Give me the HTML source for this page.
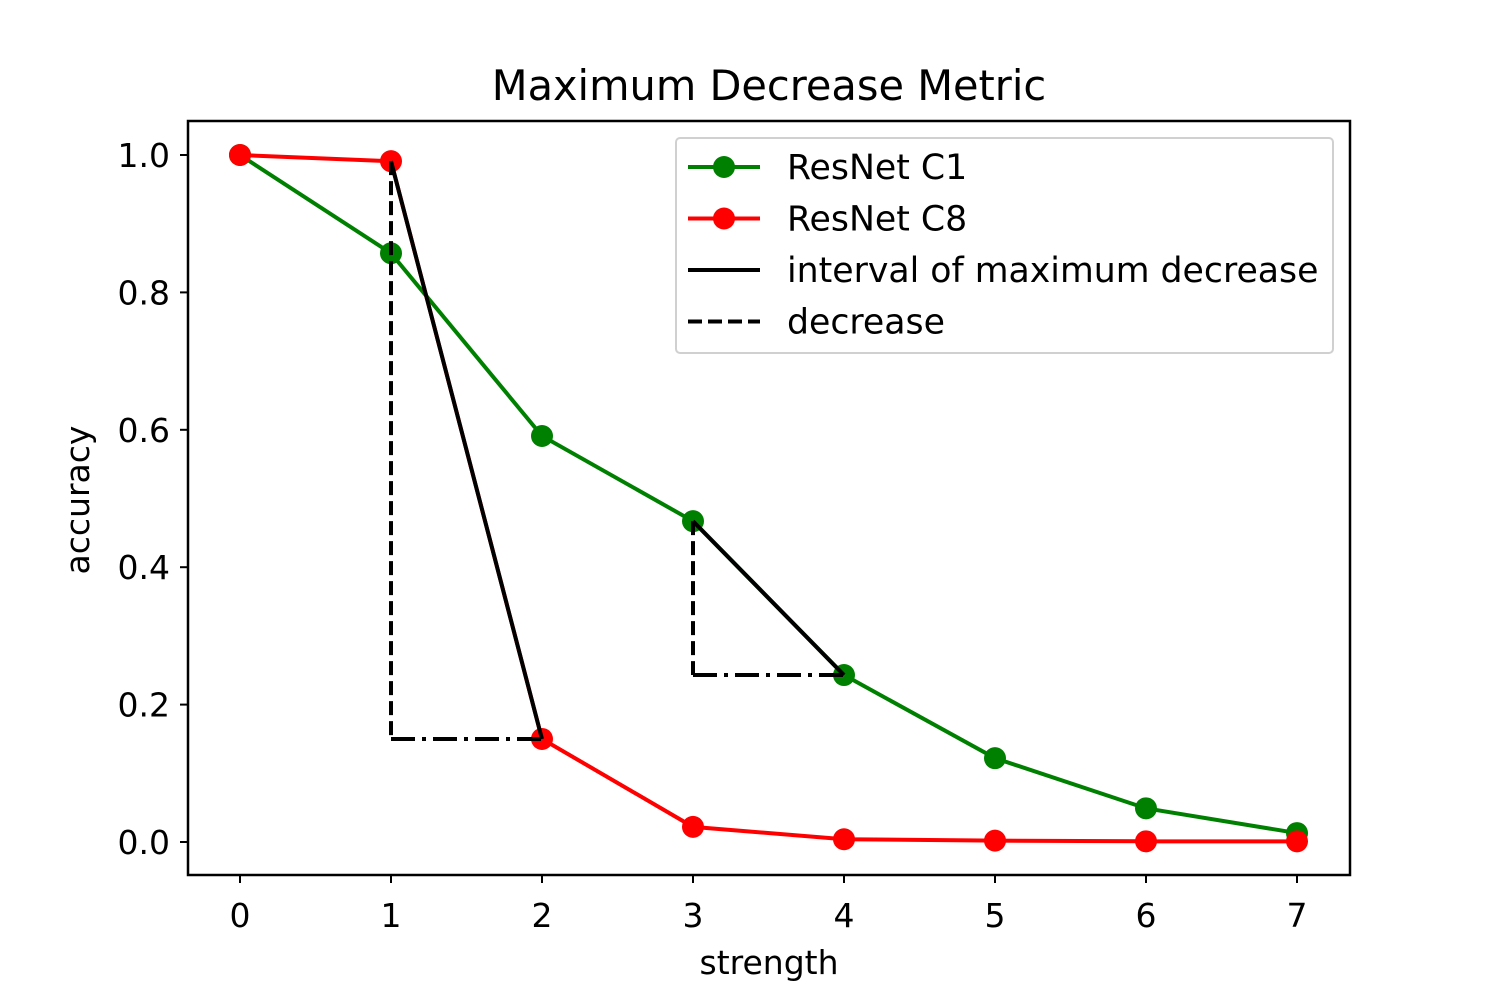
<!DOCTYPE html>
<html><head><meta charset="utf-8"><style>
body{margin:0;background:#fff}
svg text{font-family:"DejaVu Sans","Liberation Sans",sans-serif;fill:#000}
</style></head><body>
<svg id="chart" width="1500" height="1000">
<rect x="0" y="0" width="1500" height="1000" fill="#fff"/>
<g id="plot"></g>
</svg>
<script>
const xs = [0,1,2,3,4,5,6,7];
const c1 = [1.0,0.857,0.591,0.467,0.243,0.122,0.049,0.013];
const c8 = [1.0,0.991,0.150,0.022,0.004,0.002,0.001,0.001];
const xTicks = [0,1,2,3,4,5,6,7];
const yTicks = [0.0,0.2,0.4,0.6,0.8,1.0];
const intervals = [[1,2,"c8"],[3,4,"c1"]];

const L=188,R=1350,T=121,B=875;
const sx=v=>240+v*151;
const sy=v=>842-v*687;
const NS="http://www.w3.org/2000/svg";
const g=document.getElementById('plot');
const SW=4;
function mk(t,a,p){const e=document.createElementNS(NS,t);for(const k in a)e.setAttribute(k,a[k]);(p||g).appendChild(e);return e;}

xTicks.forEach(v=>{
 const l=mk('line',{x1:sx(v),x2:sx(v),y1:B,y2:B+8,stroke:'#000','stroke-width':2});
 
 
 const t=mk('text',{x:sx(v),y:B+52,'font-size':33,'text-anchor':'middle'});t.textContent=v;
 
 
});
yTicks.forEach(v=>{
 const l=mk('line',{x1:L-8,x2:L,y1:sy(v),y2:sy(v),stroke:'#000','stroke-width':2});
 
 
 const t=mk('text',{x:L-18,y:sy(v)+12,'font-size':33,'text-anchor':'end'});t.textContent=v.toFixed(1);
 
 
});

function series(vals,color,name){
 const p=mk('polyline',{points:xs.map((x,i)=>sx(x)+','+sy(vals[i])).join(' '),fill:'none',stroke:color,'stroke-width':SW});
 
 
 xs.forEach((x,i)=>{const c=mk('circle',{cx:sx(x),cy:sy(vals[i]),r:11,fill:color});
 
 });
}
series(c1,'#008000','resnet-c1');
series(c8,'#ff0000','resnet-c8');

intervals.forEach(([a,b,s])=>{
 const v=s==='c1'?c1:c8;
 const ya=v[xs.indexOf(a)],yb=v[xs.indexOf(b)];
 const d=mk('line',{x1:sx(a),y1:sy(ya),x2:sx(a),y2:sy(yb),stroke:'#000','stroke-width':SW,'stroke-dasharray':'14 6'});
 
 
 const h=mk('line',{x1:sx(a),y1:sy(yb),x2:sx(b),y2:sy(yb),stroke:'#000','stroke-width':SW,'stroke-dasharray':'24 7 4 7'});
 
 
 const s2=mk('line',{x1:sx(a),y1:sy(ya),x2:sx(b),y2:sy(yb),stroke:'#000','stroke-width':SW});
 
 
});

const ax=mk('rect',{x:L,y:T,width:R-L,height:B-T,fill:'none',stroke:'#000','stroke-width':2.5});



const tt=mk('text',{x:769,y:100,'font-size':41.5,'text-anchor':'middle'});tt.textContent='Maximum Decrease Metric';


const xl=mk('text',{x:769,y:974,'font-size':33,'text-anchor':'middle'});xl.textContent='strength';


const yl=mk('text',{x:0,y:0,'font-size':33,'text-anchor':'middle',transform:'translate(89,500) rotate(-90)'});yl.textContent='accuracy';



const lg=mk('g',{});


mk('rect',{x:676,y:138,width:657,height:215,rx:4,fill:'#fff',stroke:'#ccc','stroke-width':2,opacity:0.9},lg);
const entries=[['ResNet C1','#008000','solid',true],['ResNet C8','#ff0000','solid',true],['interval of maximum decrease','#000','solid',false],['decrease','#000','dash',false]];
entries.forEach((e,i)=>{
 const y=167+i*51.5;
 const l=mk('line',{x1:688,x2:760,y1:y,y2:y,stroke:e[1],'stroke-width':SW,'stroke-dasharray':e[2]==='dash'?'14 6':'none'},lg);
 
 
 if(e[3]){const c=mk('circle',{cx:724,cy:y,r:11,fill:e[1]},lg);
 
 }
 const t=mk('text',{x:787,y:y+12,'font-size':34.7},lg);t.textContent=e[0];
 
 
});
</script>
</body></html>
